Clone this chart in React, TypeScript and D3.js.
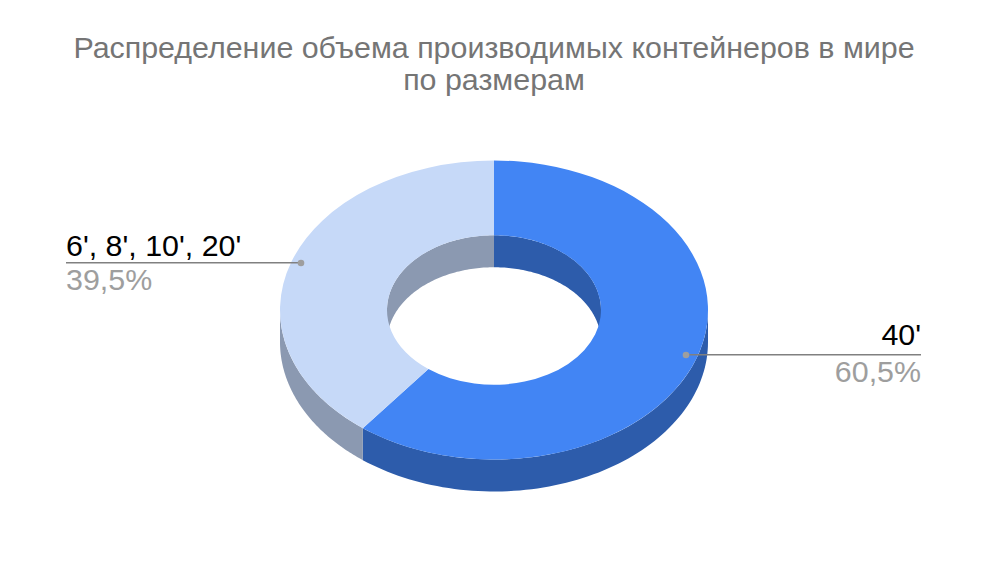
import React from "react";
import * as d3 from "d3";

const categories = ["40'", "6', 8', 10', 20'"];
const seriesValues = [60.5, 39.5];
const percentLabels = ["60,5%", "39,5%"];
const topColors = ["#4285f4", "#c6d9f8"];
const wallColors = ["#2d5cab", "#8b99b1"];
const titleLines = ["Распределение объема производимых контейнеров в мире", "по размерам"];

const cx = 494, cy = 310, rx = 214, ry = 149.5, holeRatio = 0.5, depth = 32;
const squash = ry / rx;
const FONT = "Arial, 'Liberation Sans', sans-serif";

const pie = d3.pie<number>().sort(null);
const arcs = pie(seriesValues);

const arcGen = d3.arc<d3.PieArcDatum<number>>().innerRadius(rx * holeRatio).outerRadius(rx);

// points of the flattened ellipse arc, a = clockwise from 12 o'clock
const ptsOn = (r: number, a0: number, a1: number, dy: number): [number, number][] =>
  d3.range(0, 1.0001, 1 / 80).map((t) => {
    const a = a0 + (a1 - a0) * t;
    return [r * Math.sin(a), -r * squash * Math.cos(a) + dy] as [number, number];
  });

const line = d3.line();
const ribbon = (r: number, a0: number, a1: number) => {
  if (a1 <= a0) return "";
  return line([...ptsOn(r, a0, a1, 0), ...ptsOn(r, a1, a0, depth)]) + "Z";
};

const H = Math.PI / 2;
const overlap = (a: d3.PieArcDatum<number>, lo: number, hi: number): [number, number] => [
  Math.max(a.startAngle, lo),
  Math.min(a.endAngle, hi),
];

export default function App() {
  return (
    <svg
      width={1000}
      height={564}
      style={{ position: "absolute", left: 0, top: 0, background: "#fff" }}
      fontFamily={FONT}
    >
      <text textAnchor="middle" fontSize={30.4} fill="#757575">
        {titleLines.map((t, i) => (
          <tspan key={i} x={494} y={58 + i * 32}>{t}</tspan>
        ))}
      </text>
      <g transform={`translate(${cx},${cy})`}>
        {arcs.map((a, i) => {
          const inner = [overlap(a, 0, H), overlap(a, 3 * H, 4 * H)];
          return inner.map(([s, e], j) => (
            <path key={`in${i}${j}`} d={ribbon(rx * holeRatio, s, e)} fill={wallColors[i]} />
          ));
        })}
        {arcs.map((a, i) => {
          const [s, e] = overlap(a, H, 3 * H);
          return <path key={`out${i}`} d={ribbon(rx, s, e)} fill={wallColors[i]} />;
        })}
        <g transform={`scale(1,${squash})`}>
          {arcs.map((a, i) => (
            <path key={i} d={arcGen(a) as string} fill={topColors[i]} />
          ))}
        </g>
      </g>
      {/* 40' label */}
      <line x1={686} y1={354.7} x2={921} y2={354.7} stroke="#808080" strokeWidth={1.6} />
      <circle cx={686} cy={355} r={3.3} fill="#9e9e9e" />
      <text x={921} y={345} textAnchor="end" fontSize={30.4} fill="#000">{categories[0]}</text>
      <text x={921} y={382} textAnchor="end" fontSize={30.4} fill="#9e9e9e">{percentLabels[0]}</text>
      {/* 6', 8', 10', 20' label */}
      <line x1={66} y1={262.8} x2={301} y2={262.8} stroke="#808080" strokeWidth={1.6} />
      <circle cx={301} cy={263} r={3.3} fill="#9e9e9e" />
      <text x={66} y={256} fontSize={30.4} fill="#000">{categories[1]}</text>
      <text x={66} y={290} fontSize={30.4} fill="#9e9e9e">{percentLabels[1]}</text>
    </svg>
  );
}
